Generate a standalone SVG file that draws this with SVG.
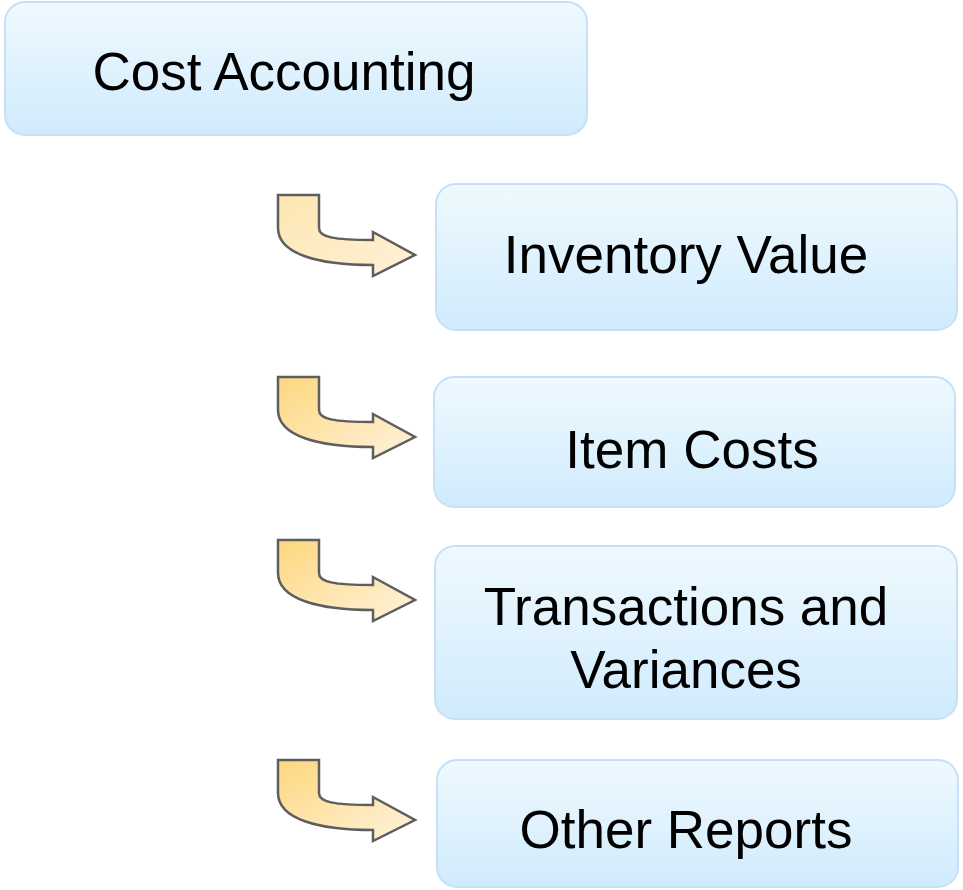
<svg xmlns="http://www.w3.org/2000/svg" width="963" height="890" viewBox="0 0 963 890">
<defs>
<linearGradient id="boxg" x1="0" y1="0" x2="0" y2="1">
<stop offset="0" stop-color="#eff9fe"/>
<stop offset="1" stop-color="#d0ebfd"/>
</linearGradient>
<linearGradient id="arrg" x1="0" y1="0" x2="1" y2="1">
<stop offset="0" stop-color="#fed77e"/>
<stop offset="1" stop-color="#fff3de"/>
</linearGradient>
<linearGradient id="arrg1" x1="0" y1="0" x2="1" y2="1">
<stop offset="0" stop-color="#fde6b2"/>
<stop offset="1" stop-color="#fff1d8"/>
</linearGradient>
<path id="arrow" d="M278,195 L319,195 L319,228 C319,237 333,240 373,240 L373,232 L415,255 L373,276 L373,265 C318,265 278,254 278,228 Z"/>
</defs>
<style>
.box{fill:url(#boxg);stroke:#c6e0f8;stroke-width:2}
.lbl{font-family:"Liberation Sans",Arial,sans-serif;font-size:53px;fill:#000;text-anchor:middle}
.arr{stroke:#5e5e5e;stroke-width:2.5;stroke-linejoin:miter}
</style>
<rect width="963" height="890" fill="#fff"/>
<g id="connectors">
<use href="#arrow" class="arr" fill="url(#arrg1)"/>
<use href="#arrow" class="arr" fill="url(#arrg)" transform="translate(0,182)"/>
<use href="#arrow" class="arr" fill="url(#arrg)" transform="translate(0,345)"/>
<use href="#arrow" class="arr" fill="url(#arrg)" transform="translate(0,565)"/>
</g>
<g id="cost-accounting">
<rect class="box" x="5" y="2" width="582" height="133" rx="20"/>
<text class="lbl" x="284" y="90">Cost Accounting</text>
</g>
<g id="inventory-value">
<rect class="box" x="436" y="184" width="521" height="146" rx="20"/>
<text class="lbl" x="686" y="273">Inventory Value</text>
</g>
<g id="item-costs">
<rect class="box" x="434" y="377" width="521" height="130" rx="20"/>
<text class="lbl" x="692" y="468">Item Costs</text>
</g>
<g id="transactions-variances">
<rect class="box" x="435" y="546" width="522" height="173" rx="20"/>
<text class="lbl" x="686" y="625">Transactions and</text>
<text class="lbl" x="686" y="688">Variances</text>
</g>
<g id="other-reports">
<rect class="box" x="437" y="760" width="521" height="127" rx="20"/>
<text class="lbl" x="686" y="848">Other Reports</text>
</g>
</svg>
